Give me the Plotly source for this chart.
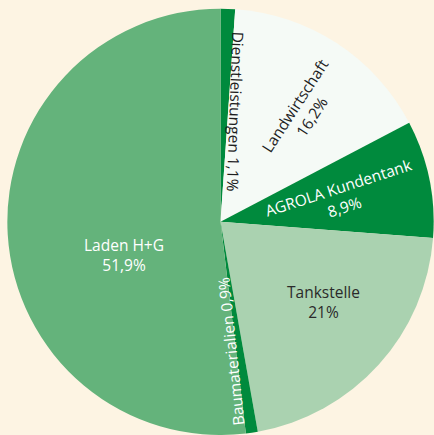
import math
import plotly.graph_objects as go

categories = ["Dienstleistungen", "Landwirtschaft", "AGROLA Kundentank", "Tankstelle", "Baumaterialien", "Laden H+G"]
values = [1.1, 16.2, 8.9, 21.0, 0.9, 51.9]
value_labels = ["1,1%", "16,2%", "8,9%", "21%", "0,9%", "51,9%"]

colors = ["#008A3D", "#F5FAF6", "#008A3D", "#AAD2B0", "#008A3D", "#64B37B"]
text_colors = ["#1E1E1E", "#1E1E1E", "#FFFFFF", "#2A2A2A", "#FFFFFF", "#FFFFFF"]
# label placement: (angle offset from slice middle in deg, radius fraction, text angle, single line)
placement = [
    (5.8, 0.52, 92, True),
    (3.4, 0.65, -57, False),
    (0.1, 0.58, -18, False),
    (-4.3, 0.61, 0, False),
    (3.7, 0.61, -96, True),
    (-15.2, 0.48, 0, False),
]

W, H = 434, 435
dom_x = [0.0161, 1.0]
dom_y = [0.0, 0.98]
cx = (dom_x[0] + dom_x[1]) / 2 * W
cy = (dom_y[0] + dom_y[1]) / 2 * H  # from bottom
R = min((dom_x[1] - dom_x[0]) * W, (dom_y[1] - dom_y[0]) * H) / 2

fig = go.Figure(go.Pie(
    labels=categories, values=values, sort=False, direction="clockwise", rotation=0,
    marker=dict(colors=colors, line=dict(width=0)),
    textinfo="none", hoverinfo="label+percent", showlegend=False,
    domain=dict(x=dom_x, y=dom_y),
))

total = sum(values)
cum = 0.0
annotations = []
for cat, v, lab, tc, (doff, rf, ta, single) in zip(categories, values, value_labels, text_colors, placement):
    mid = (cum + v / 2) / total * 360.0
    cum += v
    th = math.radians(mid + doff)
    px = cx + rf * R * math.sin(th)
    py = cy + rf * R * math.cos(th)
    text = f"{cat} {lab}" if single else f"{cat}<br>{lab}"
    annotations.append(dict(
        x=px / W, y=py / H, xref="paper", yref="paper", text=text, showarrow=False,
        textangle=ta, font=dict(family="Open Sans", size=15.5, color=tc),
        xanchor="center", yanchor="middle",
    ))

fig.update_layout(
    width=W, height=H, margin=dict(l=0, r=0, t=0, b=0),
    paper_bgcolor="#FDF4E3", plot_bgcolor="#FDF4E3",
    annotations=annotations,
)
fig.write_html(
    "out.html",
    config={"displayModeBar": False},
    post_script="document.body.style.margin='0';document.body.style.overflow='hidden';document.body.style.background='#FDF4E3';",
)
